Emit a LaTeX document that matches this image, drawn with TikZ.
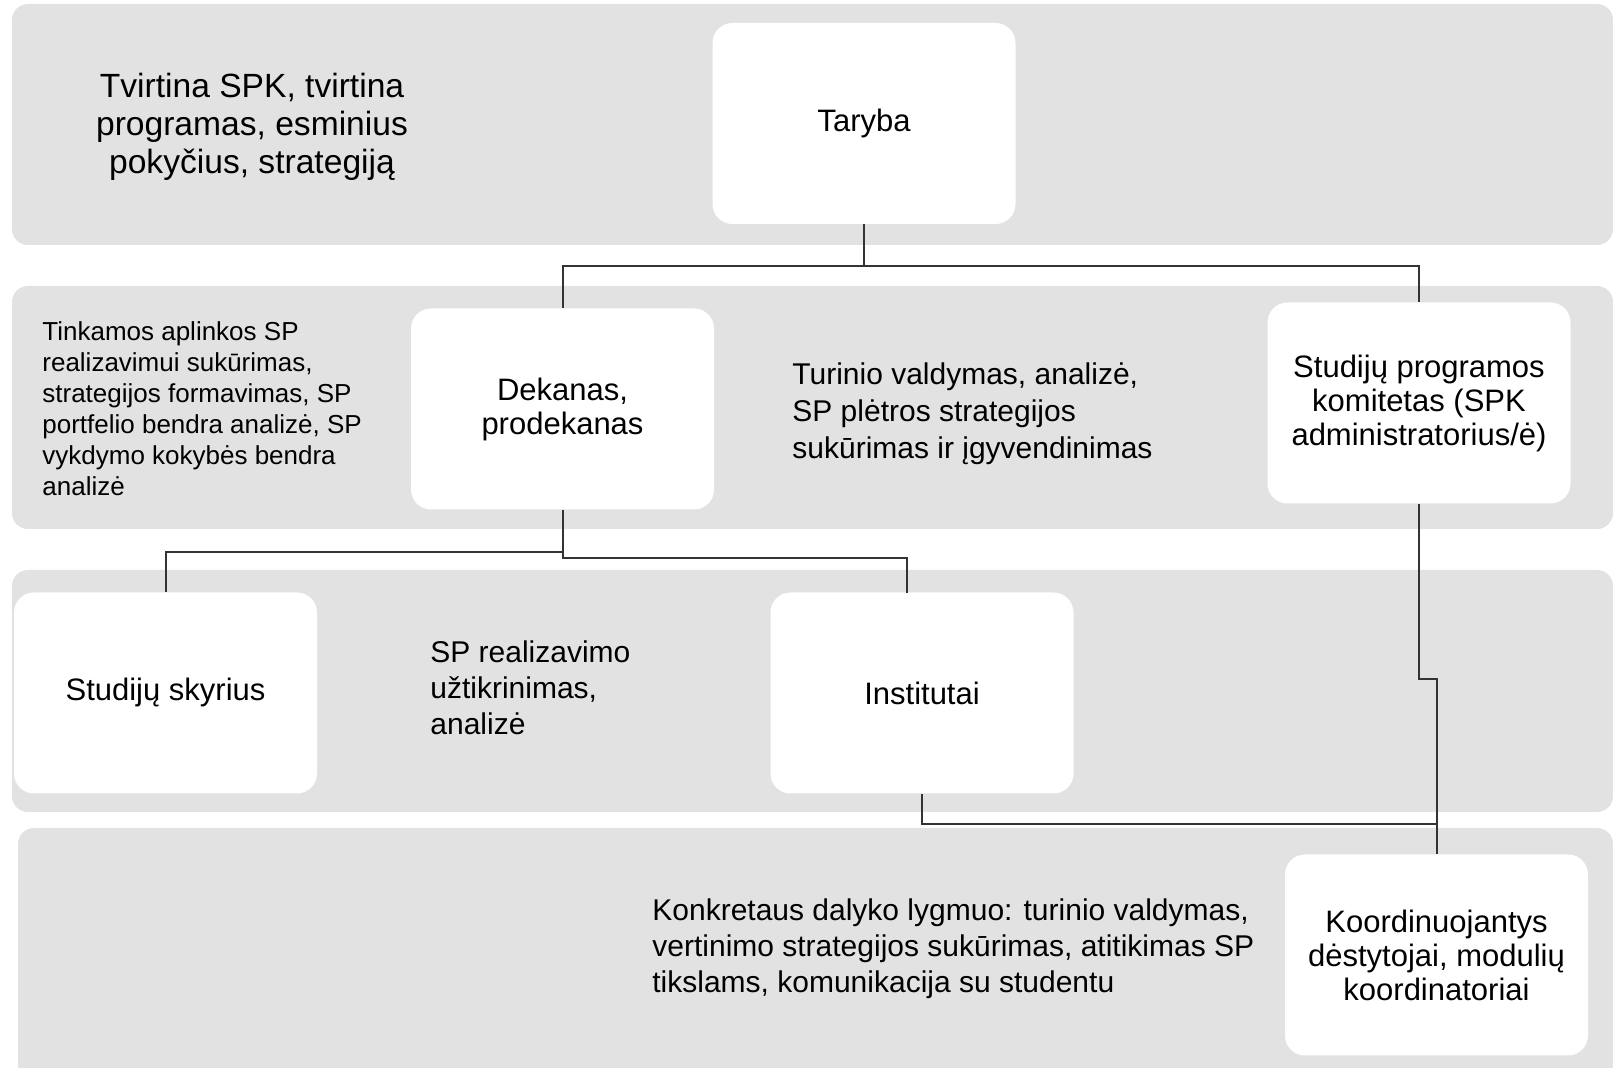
\documentclass[tikz,border=0pt]{standalone}
\usepackage{fontspec}
\setmainfont{Liberation Sans}
\usepackage{xcolor}
\definecolor{bandgray}{RGB}{226,226,226}
\definecolor{linegray}{RGB}{51,51,51}
\usetikzlibrary{positioning}

\begin{document}
\begin{tikzpicture}[x=0.5pt,y=-0.5pt,
	band/.style={fill=bandgray, rounded corners=8pt},
	unit/.style={
		fill=white,              % white box
		rounded corners=10pt,    % soft corners
		minimum width=151.5pt,
		minimum height=100.5pt,
		inner sep=0pt,
		align=center,
		font=\fontsize{15.5}{17}\selectfont},
	note/.style={align=left, anchor=west, inner sep=0pt},
	link/.style={draw=linegray, line width=1pt}]
	\useasboundingbox (0,0) rectangle (1613,1068);
	\clip (0,0) rectangle (1613,1068);
	% levels
	\fill[band] (12,4) rectangle (1613,245);
	\fill[band] (12,286) rectangle (1613,529);
	\fill[band] (12,570) rectangle (1613,812);
	\fill[band] (18,828) rectangle (1613,1085);
	% boxes
	\node[unit] (taryba) at (864,123.5) {Taryba};
	\node[unit] (dekanas) at (562.5,409) {Dekanas,\\prodekanas};
	\node[unit] (spk) at (1419,403) {Studijų programos\\komitetas (SPK\\administratorius/ė)};
	\node[unit] (skyrius) at (165.5,693) {Studijų skyrius};
	\node[unit] (institutai) at (922,693) {Institutai};
	\node[unit] (koord) at (1436.5,955) {Koordinuojantys\\dėstytojai, modulių\\koordinatoriai};
	% descriptions
	\node[align=center, font=\fontsize{16.8}{19}\selectfont] (tvirtina) at (252,127)
		{Tvirtina SPK, tvirtina\\programas, esminius\\pokyčius, strategiją};
	\node[note, font=\fontsize{13}{15.5}\selectfont] (aplinka) at (42,409)
		{Tinkamos aplinkos SP\\realizavimui sukūrimas,\\strategijos formavimas, SP\\portfelio bendra analizė, SP\\vykdymo kokybės bendra\\analizė};
	\node[note, font=\fontsize{15}{18.5}\selectfont] (turinys) at (792,414)
		{Turinio valdymas, analizė,\\SP plėtros strategijos\\sukūrimas ir įgyvendinimas};
	\node[note, font=\fontsize{15}{18}\selectfont] (realizavimas) at (430,688)
		{SP realizavimo\\užtikrinimas,\\analizė};
	\node[note, font=\fontsize{15}{18}\selectfont] (dalykas) at (652,949)
		{Konkretaus dalyko lygmuo: turinio valdymas,\\vertinimo strategijos sukūrimas, atitikimas SP\\tikslams, komunikacija su studentu};
	% connectors
	\coordinate (tjoin) at (864,266);
	\draw[link] (taryba.south) -- (tjoin) -| (dekanas.north);
	\draw[link] (tjoin) -| (spk.north);
	\coordinate (djoin) at (562.5,552);
	\coordinate (iin) at (907,593);
	\draw[link] (dekanas.south) -- (djoin) -| (skyrius.north);
	\draw[link] (djoin) -- ++(0,6.5) -| (iin);
	\coordinate (sjoin) at (1419,679);
	\draw[link] (spk.south) -- (sjoin) -| (koord.north);
	\coordinate (kjoin) at (1436.5,824);
	\draw[link] (institutai.south) |- (kjoin);
\end{tikzpicture}
\end{document}
